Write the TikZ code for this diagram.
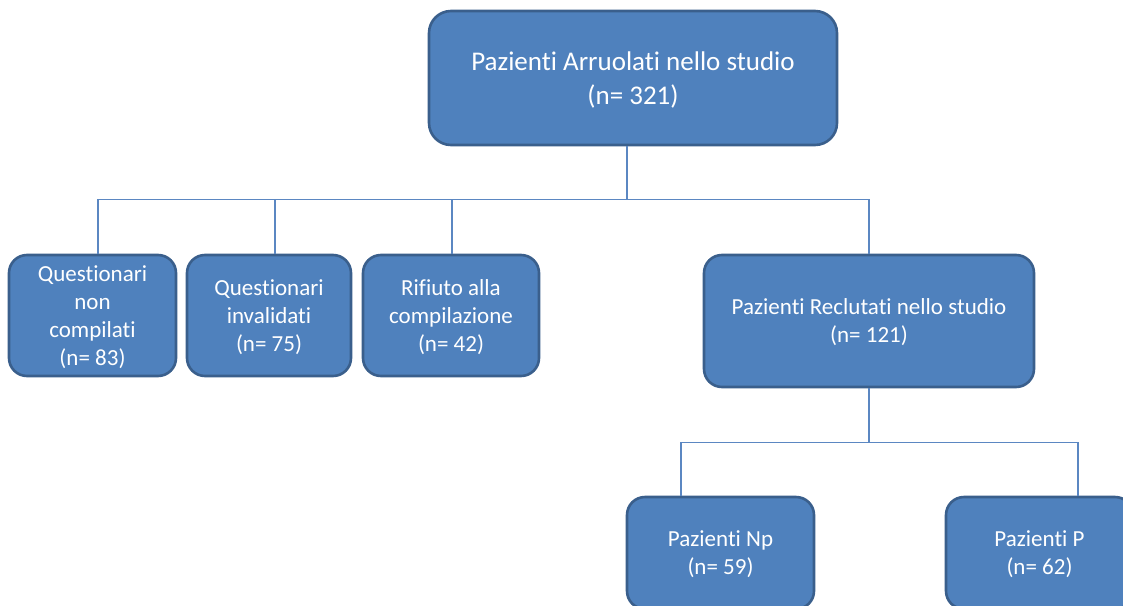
\documentclass[tikz,border=0pt]{standalone}
\usepackage{fontspec}
\setmainfont[Ligatures=NoCommon]{Carlito}
\definecolor{boxfill}{HTML}{4F81BD}
\definecolor{boxline}{HTML}{3A5F8C}
\definecolor{connblue}{HTML}{5B87C2}
\begin{document}
\begin{tikzpicture}[x=1pt,y=-1pt,
  box/.style={draw=boxline, line width=2.6pt, fill=boxfill, rounded corners=18pt,
    text=white, align=center, inner sep=0pt, text depth=0pt,
    font=\fontsize{23}{28}\selectfont},
  link/.style={draw=connblue, line width=1.3pt}]
\clip (0,0) rectangle (1123,605);
\fill[white] (0,0) rectangle (1123,605);
\node[box, minimum width=408pt, minimum height=134pt, rounded corners=22pt,
  font=\fontsize{27}{34}\selectfont] (top) at (633,78)
  {Pazienti Arruolati nello studio\\(n= 321)};
\node[box, minimum width=167pt, minimum height=121pt] (b1) at (92.5,315.5)
  {Questionari\\non\\compilati\\(n= 83)};
\node[box, minimum width=164pt, minimum height=121pt] (b2) at (269,315.5)
  {Questionari\\invalidati\\(n= 75)};
\node[box, minimum width=176pt, minimum height=121pt] (b3) at (451,315.5)
  {Rifiuto alla\\compilazione\\(n= 42)};
\node[box, minimum width=330pt, minimum height=132pt] (r) at (869,321)
  {Pazienti Reclutati nello studio\\(n= 121)};
\node[box, minimum width=187pt, minimum height=112pt] (b5) at (720.5,553)
  {Pazienti Np\\(n= 59)};
\node[box, minimum width=187pt, minimum height=112pt] (b6) at (1039.5,553)
  {Pazienti P\\(n= 62)};
% connectors
\draw[link] ([xshift=-6pt]top.south) -- ++(0,53) coordinate (bus1);
\draw[link] ([xshift=5.5pt]b1.north) |- (r.north |- bus1) -- (r.north);
\draw[link] ([xshift=6pt]b2.north) -- ([xshift=6pt]b2.north |- bus1);
\draw[link] ([xshift=1pt]b3.north) -- ([xshift=1pt]b3.north |- bus1);
\draw[link] (r.south) -- ++(0,54) coordinate (bus2);
\draw[link] ([xshift=-39.5pt]b5.north) |- (bus2) -| ([xshift=38.5pt]b6.north);
\end{tikzpicture}
\end{document}
